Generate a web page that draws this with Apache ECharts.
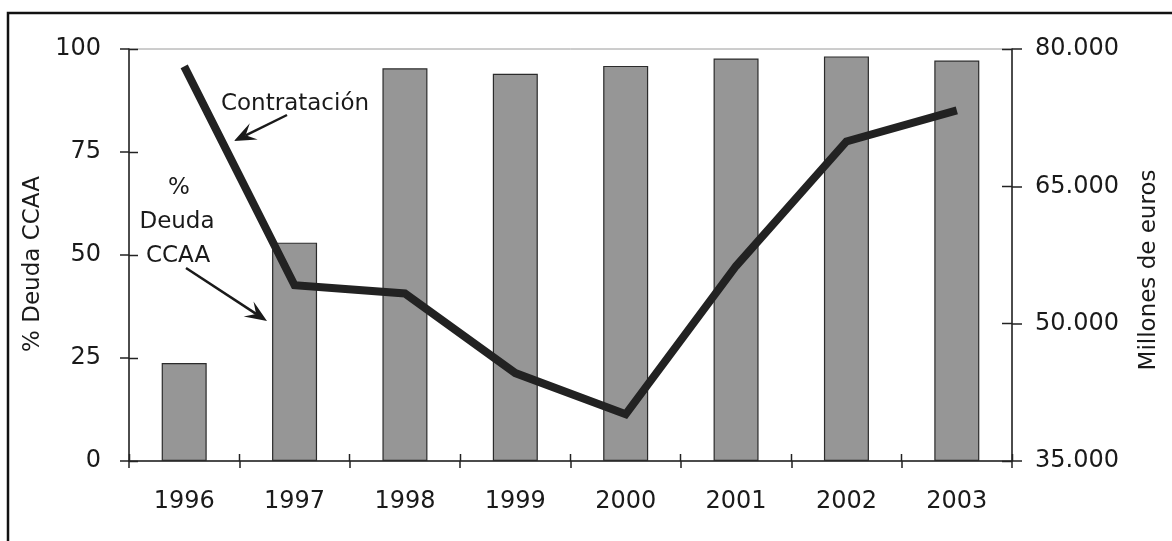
<!DOCTYPE html>
<html>
<head>
<meta charset="utf-8">
<script src="https://cdn.jsdelivr.net/npm/echarts@6/dist/echarts.min.js"></script>
<style>
html,body{margin:0;padding:0;background:#fff;}
#chart{width:1172px;height:541px;}
</style>
</head>
<body>
<div id="chart"></div>
<script>
const categories = ['1996','1997','1998','1999','2000','2001','2002','2003'];
const deudaPct = [23.8, 53.0, 95.3, 94.0, 95.9, 97.7, 98.2, 97.2];
const contratacion = [78100, 54200, 53300, 44600, 40100, 56300, 69900, 73300];
const leftTicks = [0, 25, 50, 75, 100];
const rightTicks = [35000, 50000, 65000, 80000];

const FONT = 'DejaVu Sans, Verdana, sans-serif';
const INK = '#1a1a1a';
const AXIS = '#222';

function fmtThousands(v){
  return String(v).replace(/\B(?=(\d{3})+(?!\d))/g, '.');
}

function arrow(x1, y1, x2, y2){
  const dx = x2 - x1, dy = y2 - y1, L = Math.hypot(dx, dy);
  const ux = dx / L, uy = dy / L, nx = -uy, ny = ux;
  const hl = 22, hw = 9, notch = 13;
  const bx = x2 - ux * hl, by = y2 - uy * hl;
  const mx = x2 - ux * notch, my = y2 - uy * notch;
  return [
    {type:'line', z:10, shape:{x1:x1, y1:y1, x2:mx, y2:my}, style:{stroke:INK, lineWidth:2.5}},
    {type:'polygon', z:10, shape:{points:[[x2,y2],[bx+nx*hw, by+ny*hw],[mx,my],[bx-nx*hw, by-ny*hw]]}, style:{fill:INK}}
  ];
}

function txt(s, x, y){
  return {type:'text', z:10, x:x, y:y, style:{text:s, fill:INK, font:'23px ' + FONT, textAlign:'center', textVerticalAlign:'middle'}};
}

function crisp(v){ return Math.round(v - 0.5) + 0.5; }
const tickStyle = {stroke:AXIS, lineWidth:1.5};

// inner halves of the crossing ticks, placed through the axes' own scales
function leftInnerTick(params, api){
  const cs = params.coordSys;
  const y = crisp(api.coord([0, api.value(1)])[1]);
  return {type:'line', shape:{x1:cs.x, y1:y, x2:cs.x + 9, y2:y}, style:tickStyle};
}
function rightInnerTick(params, api){
  const cs = params.coordSys;
  const y = crisp(api.coord([0, api.value(1)])[1]);
  const xr = cs.x + cs.width;
  return {type:'line', shape:{x1:xr - 10, y1:y, x2:xr, y2:y}, style:tickStyle};
}
function bottomInnerTick(params, api){
  const cs = params.coordSys;
  const idx = api.value(0);
  const c = api.coord([idx, 0]);
  const bw = api.size([1, 0])[0];
  const yb = cs.y + cs.height;
  const xs = [c[0] - bw / 2];
  if (idx === categories.length - 1) xs.push(c[0] + bw / 2);
  return {type:'group', children: xs.map(function(x){
    const xx = crisp(x);
    return {type:'line', shape:{x1:xx, y1:yb, x2:xx, y2:yb - 7}, style:tickStyle};
  })};
}

const axisLineStyle = {color:AXIS, width:1.5};

const chart = echarts.init(document.getElementById('chart'));
chart.setOption({
  animation:false,
  backgroundColor:'#fff',
  textStyle:{fontFamily:FONT},
  grid:{left:129, right:160, top:49, bottom:80, show:true, borderColor:'#9a9a9a', borderWidth:1, backgroundColor:'transparent'},
  xAxis:{type:'category', data:categories, position:'bottom', boundaryGap:true,
     axisLine:{show:true, onZero:false, lineStyle:axisLineStyle},
     axisTick:{show:true, length:7, alignWithLabel:false, lineStyle:axisLineStyle},
     axisLabel:{fontSize:24, color:INK, margin:29, fontFamily:FONT},
     splitLine:{show:false}},
  yAxis:[
    {type:'value', position:'left', min:0, max:100, interval:25,
     axisLine:{show:true, lineStyle:axisLineStyle},
     axisTick:{show:true, length:9, lineStyle:axisLineStyle},
     axisLabel:{fontSize:24, color:INK, margin:28, fontFamily:FONT},
     splitLine:{show:false},
     name:'% Deuda CCAA', nameLocation:'middle', nameRotate:90, nameGap:72,
     nameTextStyle:{fontSize:23, color:INK, fontFamily:FONT, padding:[0,18,0,0]}},
    {type:'value', position:'right', min:35000, max:80000, interval:15000,
     axisLine:{show:true, lineStyle:axisLineStyle},
     axisTick:{show:true, length:10, lineStyle:axisLineStyle, customValues:rightTicks},
     axisLabel:{fontSize:24, color:INK, margin:23, fontFamily:FONT, customValues:rightTicks, formatter:fmtThousands},
     splitLine:{show:false},
     name:'Millones de euros', nameLocation:'middle', nameRotate:90, nameGap:126,
     nameTextStyle:{fontSize:23, color:INK, fontFamily:FONT, padding:[0,30,0,0]}}
  ],
  series:[
    {type:'bar', name:'% Deuda CCAA', data:deudaPct, yAxisIndex:0, barWidth:45,
     itemStyle:{color:'#969696', borderColor:'#2b2b2b', borderWidth:1.2}, z:2},
    {type:'line', name:'Contratación', data:contratacion, yAxisIndex:1,
     symbol:'none', smooth:false, z:5,
     lineStyle:{color:'#222', width:8, join:'miter'}},
    {type:'custom', name:'leftInnerTicks', yAxisIndex:0, clip:false, silent:true, z:6,
     data:leftTicks.map(function(v){ return [0, v]; }), renderItem:leftInnerTick},
    {type:'custom', name:'rightInnerTicks', yAxisIndex:1, clip:false, silent:true, z:6,
     data:rightTicks.map(function(v){ return [0, v]; }), renderItem:rightInnerTick},
    {type:'custom', name:'bottomInnerTicks', yAxisIndex:0, clip:false, silent:true, z:6,
     data:categories.map(function(c, i){ return [i, 0]; }), renderItem:bottomInnerTick}
  ],
  graphic:[
    {type:'rect', z:0, shape:{x:8, y:13, width:1200, height:600}, style:{fill:'none', stroke:'#111', lineWidth:2.5}},
    txt('Contratación', 295, 104),
    txt('%', 179, 188),
    txt('Deuda', 177, 222),
    txt('CCAA', 178, 256)
  ].concat(arrow(287, 115, 234, 141)).concat(arrow(186, 268, 267, 321))
});
</script>
</body>
</html>
